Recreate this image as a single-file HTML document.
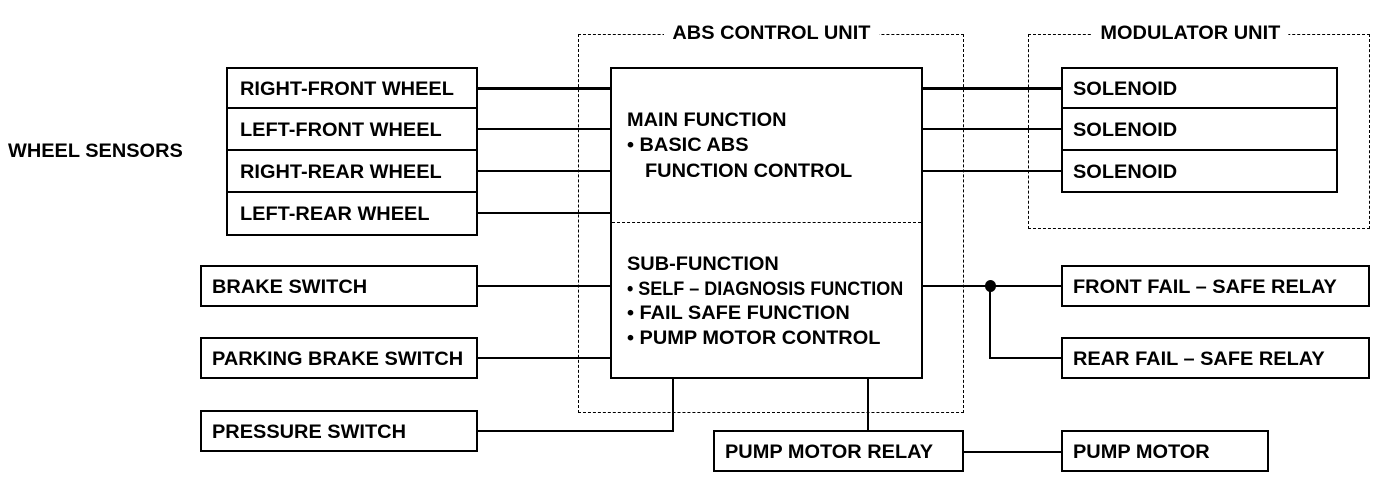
<!DOCTYPE html>
<html><head><style>
body{margin:0;background:#fff;width:1392px;height:478px;overflow:hidden;position:relative;font-family:"Liberation Sans",sans-serif;font-weight:bold;font-size:19px;color:#000}
.b{position:absolute;border:2px solid #000;box-sizing:border-box}
.t{position:absolute;white-space:nowrap;transform-origin:left center;transform:scaleX(1.05);line-height:20px;padding-top:2px}
.d{position:absolute;border:1.5px dashed #000;box-sizing:border-box}
.h{position:absolute;height:2px;background:#000}
.v{position:absolute;width:2px;background:#000}
</style></head><body>
<div class="d" style="left:578px;top:34px;width:386px;height:379px"></div>
<div class="t" style="left:664px;top:22px;background:#fff;padding:2px 8px 0">ABS CONTROL UNIT</div>
<div class="d" style="left:1028px;top:34px;width:342px;height:195px"></div>
<div class="t" style="left:1092px;top:22px;background:#fff;padding:2px 8px 0">MODULATOR UNIT</div>

<div class="t" style="left:8px;top:140px">WHEEL SENSORS</div>
<div class="b" style="left:226px;top:67px;width:252px;height:169px"></div>
<div class="h" style="left:226px;top:107px;width:252px"></div>
<div class="h" style="left:226px;top:149px;width:252px"></div>
<div class="h" style="left:226px;top:191px;width:252px"></div>
<div class="t" style="left:240px;top:78px">RIGHT-FRONT WHEEL</div>
<div class="t" style="left:240px;top:119px">LEFT-FRONT WHEEL</div>
<div class="t" style="left:240px;top:161px">RIGHT-REAR WHEEL</div>
<div class="t" style="left:240px;top:203px">LEFT-REAR WHEEL</div>

<div class="b" style="left:610px;top:67px;width:313px;height:312px"></div>
<div class="d" style="left:612px;top:222px;width:309px;height:0;border-width:1px 0 0 0"></div>
<div class="t" style="left:627px;top:109px">MAIN FUNCTION</div>
<div class="t" style="left:627px;top:134px">• BASIC ABS</div>
<div class="t" style="left:645px;top:160px">FUNCTION CONTROL</div>
<div class="t" style="left:627px;top:253px">SUB-FUNCTION</div>
<div class="t" style="left:627px;top:278px;transform:scaleX(0.947)">• SELF – DIAGNOSIS FUNCTION</div>
<div class="t" style="left:627px;top:302px">• FAIL SAFE FUNCTION</div>
<div class="t" style="left:627px;top:327px">• PUMP MOTOR CONTROL</div>

<div class="b" style="left:1061px;top:67px;width:277px;height:126px"></div>
<div class="h" style="left:1061px;top:107px;width:277px"></div>
<div class="h" style="left:1061px;top:149px;width:277px"></div>
<div class="t" style="left:1073px;top:78px">SOLENOID</div>
<div class="t" style="left:1073px;top:119px">SOLENOID</div>
<div class="t" style="left:1073px;top:161px">SOLENOID</div>

<div class="b" style="left:200px;top:265px;width:278px;height:42px"></div>
<div class="t" style="left:212px;top:276px">BRAKE SWITCH</div>
<div class="b" style="left:200px;top:337px;width:278px;height:42px"></div>
<div class="t" style="left:212px;top:348px">PARKING BRAKE SWITCH</div>
<div class="b" style="left:200px;top:410px;width:278px;height:42px"></div>
<div class="t" style="left:212px;top:421px">PRESSURE SWITCH</div>

<div class="b" style="left:1061px;top:265px;width:309px;height:42px"></div>
<div class="t" style="left:1073px;top:276px">FRONT FAIL – SAFE RELAY</div>
<div class="b" style="left:1061px;top:337px;width:309px;height:42px"></div>
<div class="t" style="left:1073px;top:348px">REAR FAIL – SAFE RELAY</div>

<div class="b" style="left:713px;top:430px;width:251px;height:42px"></div>
<div class="t" style="left:725px;top:441px">PUMP MOTOR RELAY</div>
<div class="b" style="left:1061px;top:430px;width:208px;height:42px"></div>
<div class="t" style="left:1073px;top:441px">PUMP MOTOR</div>

<div class="h" style="left:478px;top:87px;width:132px;height:3px"></div>
<div class="h" style="left:478px;top:128px;width:132px"></div>
<div class="h" style="left:478px;top:170px;width:132px"></div>
<div class="h" style="left:478px;top:212px;width:132px"></div>
<div class="h" style="left:923px;top:87px;width:138px;height:3px"></div>
<div class="h" style="left:923px;top:128px;width:138px"></div>
<div class="h" style="left:923px;top:170px;width:138px"></div>
<div class="h" style="left:478px;top:285px;width:132px"></div>
<div class="h" style="left:478px;top:357px;width:132px"></div>
<div class="h" style="left:478px;top:430px;width:196px"></div>
<div class="v" style="left:672px;top:379px;height:53px"></div>
<div class="v" style="left:867px;top:379px;height:51px"></div>
<div class="h" style="left:964px;top:451px;width:97px"></div>
<div class="h" style="left:923px;top:285px;width:138px"></div>
<div class="v" style="left:989px;top:285px;height:74px"></div>
<div class="h" style="left:989px;top:357px;width:72px"></div>
<div style="position:absolute;left:985px;top:280px;width:11px;height:12px;border-radius:50%;background:#000"></div>
</body></html>
